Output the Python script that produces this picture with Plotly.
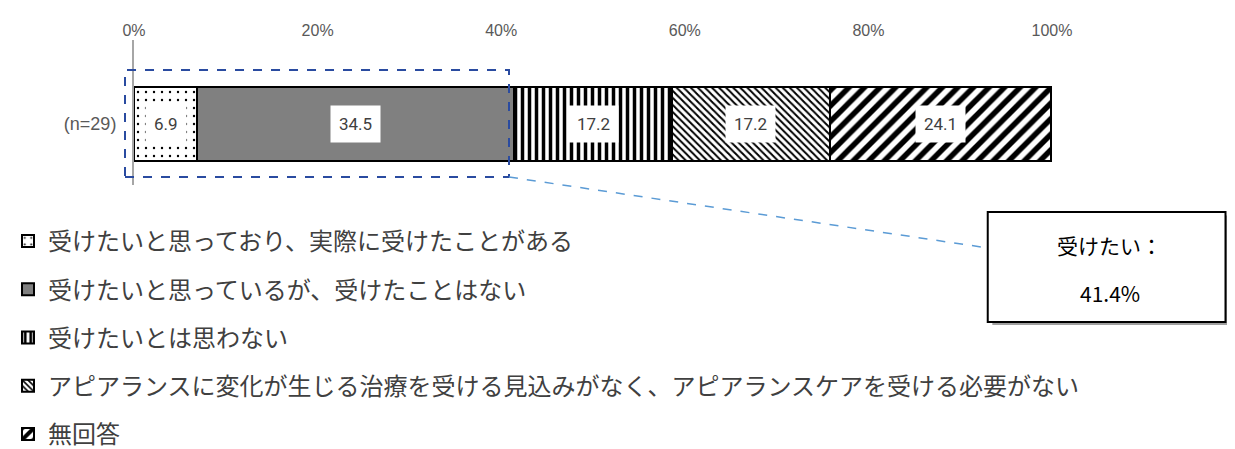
import plotly.graph_objects as go

categories = ["(n=29)"]
series_names = [
    "受けたいと思っており、実際に受けたことがある",
    "受けたいと思っているが、受けたことはない",
    "受けたいとは思わない",
    "アピアランスに変化が生じる治療を受ける見込みがなく、アピアランスケアを受ける必要がない",
    "無回答",
]
values = [6.9, 34.5, 17.2, 17.2, 24.1]
tick_vals = [0, 20, 40, 60, 80, 100]
tick_text = ["0%", "20%", "40%", "60%", "80%", "100%"]
callout_lines = ["受けたい：", "41.4%"]

# fill styles per series
fills = [
    dict(color="white", pattern=dict(shape=".", fgcolor="black", bgcolor="white", fgopacity=1, size=8, solidity=0.07)),
    dict(color="#808080"),
    dict(color="white", pattern=dict(shape="|", fgcolor="black", bgcolor="white", fgopacity=1, size=7, solidity=0.5)),
    dict(color="white", pattern=dict(shape="\\", fgcolor="black", bgcolor="white", fgopacity=1, size=5, solidity=0.4)),
    dict(color="white", pattern=dict(shape="/", fgcolor="black", bgcolor="white", fgopacity=1, size=11, solidity=0.5)),
]

JP = "Noto Sans CJK JP"
NUM = "Liberation Sans Narrow, Arial Narrow, Liberation Sans"

fig = go.Figure()
for i, (name, v) in enumerate(zip(series_names, values)):
    fig.add_trace(go.Bar(
        x=[v], y=[0], orientation="h", name=name,
        width=1, marker=dict(line=dict(color="black", width=2), **fills[i]),
        legendgroup=f"g{i}", hoverinfo="x+name",
    ))

# value labels with white boxes at segment centres
left = 0
for v in values:
    fig.add_annotation(
        x=left + v / 2, y=0, xref="x", yref="y", text=f"{v:.1f}", showarrow=False,
        font=dict(family="Roboto, Liberation Sans", size=17, color="#404040"),
        bgcolor="white", borderpad=8,
    )
    left += v

# dashed highlight around the "want" segments (paper coords so it isn't clipped)
fig.add_shape(type="rect", xref="paper", yref="paper", x0=-0.0098, x1=0.4085, y0=0.055, y1=0.793,
              line=dict(color="#2A4BA0", width=2, dash="dash"), fillcolor="rgba(0,0,0,0)")

# leader line to callout box
fig.add_shape(type="line", xref="paper", yref="paper", x0=0.4085, y0=0.055, x1=0.930, y1=-0.434,
              line=dict(color="#5B9BD5", width=1.5, dash="dash"))

# callout box with a soft shadow
fig.add_shape(type="rect", xref="paper", yref="paper", x0=0.935, x1=1.195, y0=-0.965, y1=-0.21,
              line=dict(width=0), fillcolor="#a0a0a0", layer="below")
fig.add_shape(type="rect", xref="paper", yref="paper", x0=0.930, x1=1.189, y0=-0.945, y1=-0.186,
              line=dict(color="black", width=2), fillcolor="white")
for line_text, ly in zip(callout_lines, [-0.414, -0.745]):
    fig.add_annotation(
        x=1.063, y=ly, xref="paper", yref="paper", showarrow=False, text=line_text,
        xanchor="center", yanchor="middle",
        font=dict(family=JP, size=21, color="black"),
    )

# the page has an 8px body margin; margins are shifted by that, and the figure is
# left taller than the window so the legend is not squeezed into a scroll box
fig.update_layout(
    width=1219, height=500,
    barmode="stack",
    plot_bgcolor="white", paper_bgcolor="white",
    margin=dict(l=126, r=175, t=32, b=323, autoexpand=False),
    xaxis=dict(
        side="top", range=[0, 100], tickvals=tick_vals, ticktext=tick_text,
        showgrid=False, zeroline=False, showline=False, ticks="",
        tickfont=dict(family=NUM, size=16, color="#595959"),
    ),
    yaxis=dict(
        range=[-0.824, 1.135], tickvals=[0], ticktext=categories,
        showgrid=False, zeroline=False, showline=True, linecolor="#A6A6A6", linewidth=2,
        ticks="", ticklabelstandoff=12,
        tickfont=dict(family="Liberation Sans", size=18, color="#595959"),
    ),
    legend=dict(
        xref="container", yref="container", x=0.0, y=1 - 211 / 500, xanchor="left", yanchor="top",
        traceorder="grouped", tracegroupgap=14, maxheight=400,
        font=dict(family=JP, size=24, color="#404040"), bgcolor="rgba(0,0,0,0)",
    ),
    font=dict(family=JP),
)

fig.write_html("out.html")
